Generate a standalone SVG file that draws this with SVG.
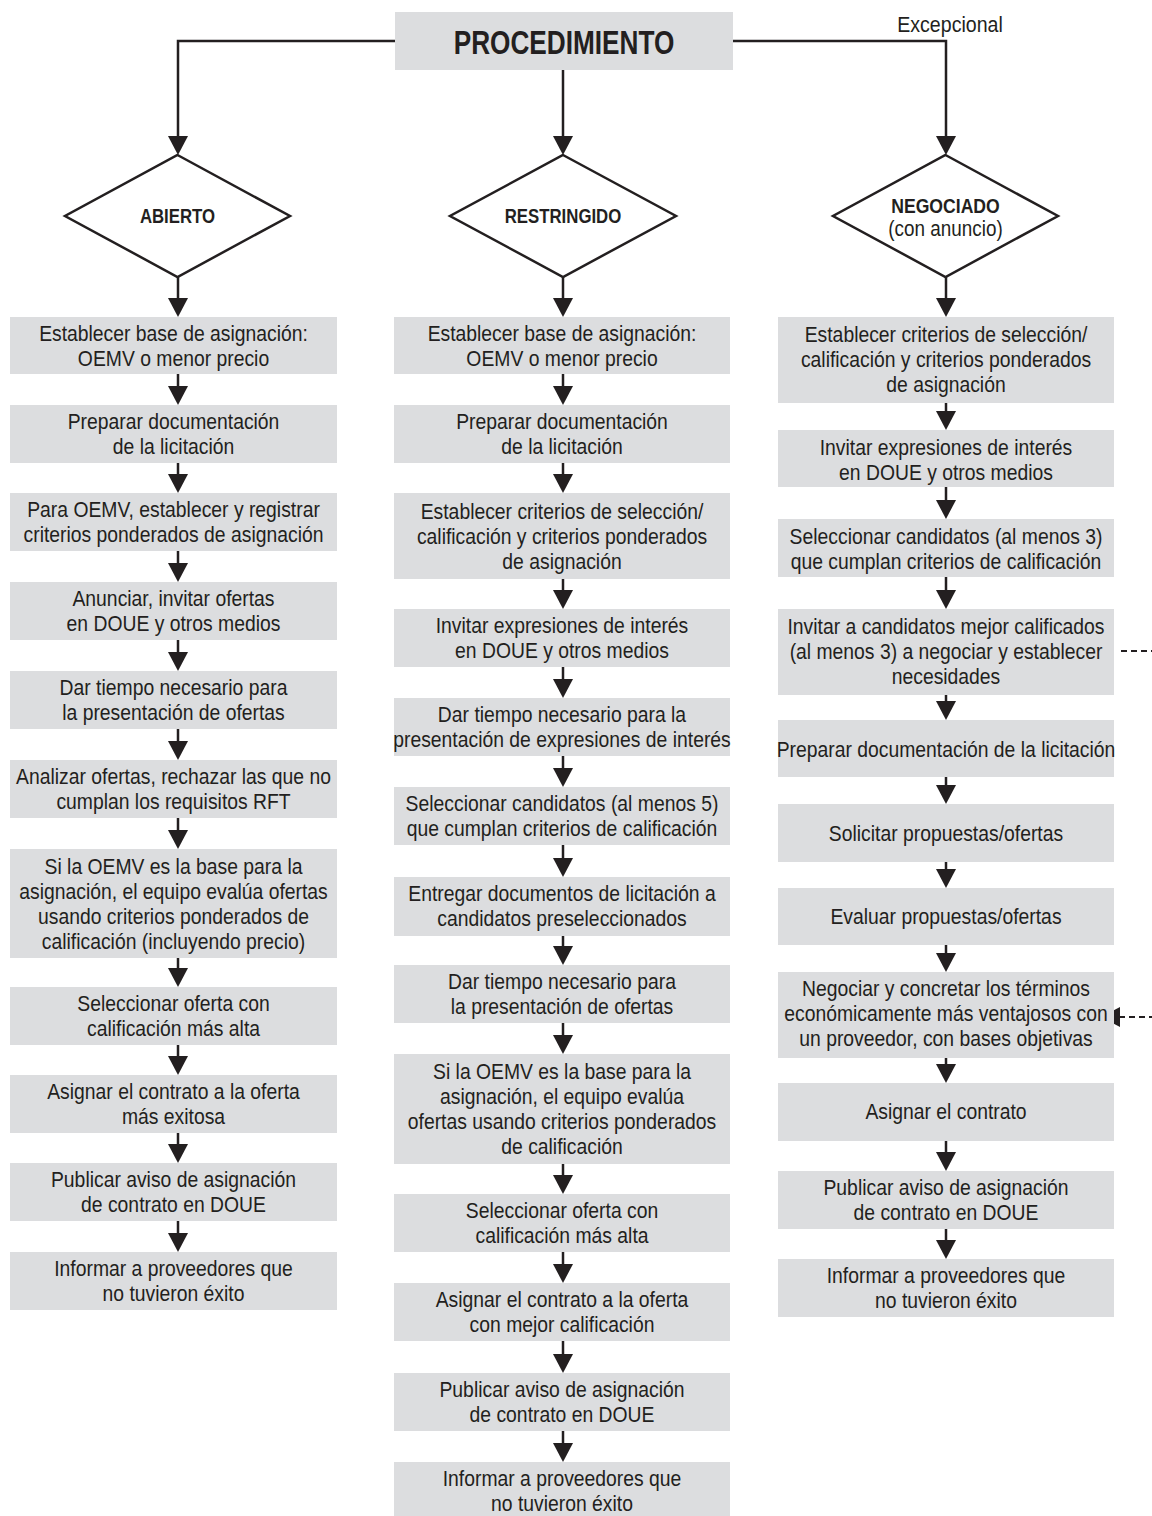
<svg xmlns="http://www.w3.org/2000/svg" width="1152" height="1516" viewBox="0 0 1152 1516">
<style>
.box{fill:#dcdddf}
.t{font-family:"Liberation Sans",Arial,sans-serif;font-size:22.5px;fill:#231f20;text-anchor:middle}
.b{font-family:"Liberation Sans",Arial,sans-serif;font-weight:bold;fill:#231f20;text-anchor:middle}
.dia{fill:#fff;stroke:#231f20;stroke-width:2.5}
.ln{fill:none;stroke:#231f20;stroke-width:2.5;marker-end:url(#ah)}
.top{fill:none;stroke:#231f20;stroke-width:2.5;marker-end:url(#ah)}
.dash{fill:none;stroke:#231f20;stroke-width:2.2;stroke-dasharray:6 4;marker-end:url(#ah)}
</style>
<defs>
<marker id="ah" markerUnits="userSpaceOnUse" markerWidth="20" markerHeight="20" refX="13" refY="10" orient="auto" viewBox="0 0 20 20">
<path d="M0,0 L19,10 L0,20 Z" fill="#231f20"/>
</marker>
</defs>
<rect width="1152" height="1516" fill="#fff"/>

<g id="connectors">
<path class="top" d="M395,41 H178 V149"/>
<path class="top" d="M563,70 V149"/>
<path class="top" d="M733,41 H946 V149"/>
<path class="ln" d="M178,277 V311"/>
<path class="ln" d="M563,277 V311"/>
<path class="ln" d="M946,277 V311"/>
<path class="ln" d="M178,374 V399"/>
<path class="ln" d="M178,463 V487"/>
<path class="ln" d="M178,551 V576"/>
<path class="ln" d="M178,640 V665"/>
<path class="ln" d="M178,729 V754"/>
<path class="ln" d="M178,818 V843"/>
<path class="ln" d="M178,958 V981"/>
<path class="ln" d="M178,1045 V1069"/>
<path class="ln" d="M178,1133 V1157"/>
<path class="ln" d="M178,1221 V1246"/>
<path class="ln" d="M563,374 V399"/>
<path class="ln" d="M563,463 V487"/>
<path class="ln" d="M563,579 V603"/>
<path class="ln" d="M563,667 V692"/>
<path class="ln" d="M563,756 V781"/>
<path class="ln" d="M563,845 V871"/>
<path class="ln" d="M563,936 V959"/>
<path class="ln" d="M563,1023 V1048"/>
<path class="ln" d="M563,1164 V1188"/>
<path class="ln" d="M563,1252 V1277"/>
<path class="ln" d="M563,1341 V1367"/>
<path class="ln" d="M563,1431 V1456"/>
<path class="ln" d="M946,403 V424"/>
<path class="ln" d="M946,487 V513"/>
<path class="ln" d="M946,577 V603"/>
<path class="ln" d="M946,695 V714"/>
<path class="ln" d="M946,777 V798"/>
<path class="ln" d="M946,862 V882"/>
<path class="ln" d="M946,945 V966"/>
<path class="ln" d="M946,1058 V1077"/>
<path class="ln" d="M946,1141 V1165"/>
<path class="ln" d="M946,1229 V1253"/>
<path class="dash" d="M1121,651 H1170 V1017 H1107"/>
</g>

<g id="procedimiento">
<rect class="box" x="395" y="12" width="338" height="58"/>
<text class="b" font-size="34" transform="translate(564 0) scale(0.77 1)" x="0" y="54">PROCEDIMIENTO</text>
</g>
<g id="excepcional-label">
<text class="t" transform="translate(950 0) scale(0.87 1)" x="0" y="32">Excepcional</text>
</g>

<g id="abierto">
<polygon class="dia" points="177.5,155 290,216 177.5,277 65,216"/>
<text class="b" font-size="20" transform="translate(177.5 0) scale(0.84 1)" x="0" y="223">ABIERTO</text>
</g>
<g id="restringido">
<polygon class="dia" points="563,155 676,216 563,277 450,216"/>
<text class="b" font-size="20" transform="translate(563 0) scale(0.84 1)" x="0" y="223">RESTRINGIDO</text>
</g>
<g id="negociado">
<polygon class="dia" points="945.5,155 1058,216 945.5,277 833,216"/>
<text class="b" font-size="20" transform="translate(945.5 0) scale(0.88 1)" x="0" y="213">NEGOCIADO</text>
<text class="t" font-size="18" transform="translate(945.5 0) scale(0.84 1)" x="0" y="236">(con anuncio)</text>
</g>

<g id="L1"><rect class="box" x="10" y="317" width="327" height="57"/>
<text class="t" transform="translate(173.5 0) scale(0.86 1)"><tspan x="0" y="341">Establecer base de asignación:</tspan><tspan x="0" y="366">OEMV o menor precio</tspan></text></g>
<g id="L2"><rect class="box" x="10" y="405" width="327" height="58"/>
<text class="t" transform="translate(173.5 0) scale(0.86 1)"><tspan x="0" y="429.5">Preparar documentación</tspan><tspan x="0" y="454.5">de la licitación</tspan></text></g>
<g id="L3"><rect class="box" x="10" y="493" width="327" height="58"/>
<text class="t" transform="translate(173.5 0) scale(0.86 1)"><tspan x="0" y="517.5">Para OEMV, establecer y registrar</tspan><tspan x="0" y="542.5">criterios ponderados de asignación</tspan></text></g>
<g id="L4"><rect class="box" x="10" y="582" width="327" height="58"/>
<text class="t" transform="translate(173.5 0) scale(0.86 1)"><tspan x="0" y="606.5">Anunciar, invitar ofertas</tspan><tspan x="0" y="631.5">en DOUE y otros medios</tspan></text></g>
<g id="L5"><rect class="box" x="10" y="671" width="327" height="58"/>
<text class="t" transform="translate(173.5 0) scale(0.86 1)"><tspan x="0" y="695.5">Dar tiempo necesario para</tspan><tspan x="0" y="720.5">la presentación de ofertas</tspan></text></g>
<g id="L6"><rect class="box" x="10" y="760" width="327" height="58"/>
<text class="t" transform="translate(173.5 0) scale(0.86 1)"><tspan x="0" y="784.5">Analizar ofertas, rechazar las que no</tspan><tspan x="0" y="809.5">cumplan los requisitos RFT</tspan></text></g>
<g id="L7"><rect class="box" x="10" y="849" width="327" height="109"/>
<text class="t" transform="translate(173.5 0) scale(0.86 1)"><tspan x="0" y="874">Si la OEMV es la base para la</tspan><tspan x="0" y="899">asignación, el equipo evalúa ofertas</tspan><tspan x="0" y="924">usando criterios ponderados de</tspan><tspan x="0" y="949">calificación (incluyendo precio)</tspan></text></g>
<g id="L8"><rect class="box" x="10" y="987" width="327" height="58"/>
<text class="t" transform="translate(173.5 0) scale(0.86 1)"><tspan x="0" y="1011.5">Seleccionar oferta con</tspan><tspan x="0" y="1036.5">calificación más alta</tspan></text></g>
<g id="L9"><rect class="box" x="10" y="1075" width="327" height="58"/>
<text class="t" transform="translate(173.5 0) scale(0.86 1)"><tspan x="0" y="1099.5">Asignar el contrato a la oferta</tspan><tspan x="0" y="1124.5">más exitosa</tspan></text></g>
<g id="L10"><rect class="box" x="10" y="1163" width="327" height="58"/>
<text class="t" transform="translate(173.5 0) scale(0.86 1)"><tspan x="0" y="1187.5">Publicar aviso de asignación</tspan><tspan x="0" y="1212.5">de contrato en DOUE</tspan></text></g>
<g id="L11"><rect class="box" x="10" y="1252" width="327" height="58"/>
<text class="t" transform="translate(173.5 0) scale(0.86 1)"><tspan x="0" y="1276.5">Informar a proveedores que</tspan><tspan x="0" y="1301.5">no tuvieron éxito</tspan></text></g>

<g id="M1"><rect class="box" x="394" y="317" width="336" height="57"/>
<text class="t" transform="translate(562 0) scale(0.86 1)"><tspan x="0" y="341">Establecer base de asignación:</tspan><tspan x="0" y="366">OEMV o menor precio</tspan></text></g>
<g id="M2"><rect class="box" x="394" y="405" width="336" height="58"/>
<text class="t" transform="translate(562 0) scale(0.86 1)"><tspan x="0" y="429.5">Preparar documentación</tspan><tspan x="0" y="454.5">de la licitación</tspan></text></g>
<g id="M3"><rect class="box" x="394" y="493" width="336" height="86"/>
<text class="t" transform="translate(562 0) scale(0.86 1)"><tspan x="0" y="519.5">Establecer criterios de selección/</tspan><tspan x="0" y="544.5">calificación y criterios ponderados</tspan><tspan x="0" y="569.5">de asignación</tspan></text></g>
<g id="M4"><rect class="box" x="394" y="609" width="336" height="58"/>
<text class="t" transform="translate(562 0) scale(0.86 1)"><tspan x="0" y="633.5">Invitar expresiones de interés</tspan><tspan x="0" y="658.5">en DOUE y otros medios</tspan></text></g>
<g id="M5"><rect class="box" x="394" y="698" width="336" height="58"/>
<text class="t" transform="translate(562 0) scale(0.86 1)"><tspan x="0" y="722.5">Dar tiempo necesario para la</tspan><tspan x="0" y="747.5">presentación de expresiones de interés</tspan></text></g>
<g id="M6"><rect class="box" x="394" y="787" width="336" height="58"/>
<text class="t" transform="translate(562 0) scale(0.86 1)"><tspan x="0" y="811.5">Seleccionar candidatos (al menos 5)</tspan><tspan x="0" y="836.5">que cumplan criterios de calificación</tspan></text></g>
<g id="M7"><rect class="box" x="394" y="877" width="336" height="59"/>
<text class="t" transform="translate(562 0) scale(0.86 1)"><tspan x="0" y="901.5">Entregar documentos de licitación a</tspan><tspan x="0" y="926.5">candidatos preseleccionados</tspan></text></g>
<g id="M8"><rect class="box" x="394" y="965" width="336" height="58"/>
<text class="t" transform="translate(562 0) scale(0.86 1)"><tspan x="0" y="989.5">Dar tiempo necesario para</tspan><tspan x="0" y="1014.5">la presentación de ofertas</tspan></text></g>
<g id="M9"><rect class="box" x="394" y="1054" width="336" height="110"/>
<text class="t" transform="translate(562 0) scale(0.86 1)"><tspan x="0" y="1079.5">Si la OEMV es la base para la</tspan><tspan x="0" y="1104.5">asignación, el equipo evalúa</tspan><tspan x="0" y="1129.5">ofertas usando criterios ponderados</tspan><tspan x="0" y="1154.5">de calificación</tspan></text></g>
<g id="M10"><rect class="box" x="394" y="1194" width="336" height="58"/>
<text class="t" transform="translate(562 0) scale(0.86 1)"><tspan x="0" y="1218.5">Seleccionar oferta con</tspan><tspan x="0" y="1243.5">calificación más alta</tspan></text></g>
<g id="M11"><rect class="box" x="394" y="1283" width="336" height="58"/>
<text class="t" transform="translate(562 0) scale(0.86 1)"><tspan x="0" y="1307.5">Asignar el contrato a la oferta</tspan><tspan x="0" y="1332.5">con mejor calificación</tspan></text></g>
<g id="M12"><rect class="box" x="394" y="1373" width="336" height="58"/>
<text class="t" transform="translate(562 0) scale(0.86 1)"><tspan x="0" y="1397.5">Publicar aviso de asignación</tspan><tspan x="0" y="1422.5">de contrato en DOUE</tspan></text></g>
<g id="M13"><rect class="box" x="394" y="1462" width="336" height="58"/>
<text class="t" transform="translate(562 0) scale(0.86 1)"><tspan x="0" y="1486.5">Informar a proveedores que</tspan><tspan x="0" y="1511.5">no tuvieron éxito</tspan></text></g>

<g id="R1"><rect class="box" x="778" y="317" width="336" height="86"/>
<text class="t" transform="translate(946 0) scale(0.86 1)"><tspan x="0" y="342">Establecer criterios de selección/</tspan><tspan x="0" y="367">calificación y criterios ponderados</tspan><tspan x="0" y="392">de asignación</tspan></text></g>
<g id="R2"><rect class="box" x="778" y="430" width="336" height="57"/>
<text class="t" transform="translate(946 0) scale(0.86 1)"><tspan x="0" y="455">Invitar expresiones de interés</tspan><tspan x="0" y="480">en DOUE y otros medios</tspan></text></g>
<g id="R3"><rect class="box" x="778" y="519" width="336" height="58"/>
<text class="t" transform="translate(946 0) scale(0.86 1)"><tspan x="0" y="544">Seleccionar candidatos (al menos 3)</tspan><tspan x="0" y="569">que cumplan criterios de calificación</tspan></text></g>
<g id="R4"><rect class="box" x="778" y="609" width="336" height="86"/>
<text class="t" transform="translate(946 0) scale(0.86 1)"><tspan x="0" y="634">Invitar a candidatos mejor calificados</tspan><tspan x="0" y="659">(al menos 3) a negociar y establecer</tspan><tspan x="0" y="684">necesidades</tspan></text></g>
<g id="R5"><rect class="box" x="778" y="720" width="336" height="57"/>
<text class="t" transform="translate(946 0) scale(0.86 1)" x="0" y="757">Preparar documentación de la licitación</text></g>
<g id="R6"><rect class="box" x="778" y="804" width="336" height="58"/>
<text class="t" transform="translate(946 0) scale(0.86 1)" x="0" y="841">Solicitar propuestas/ofertas</text></g>
<g id="R7"><rect class="box" x="778" y="888" width="336" height="57"/>
<text class="t" transform="translate(946 0) scale(0.86 1)" x="0" y="924">Evaluar propuestas/ofertas</text></g>
<g id="R8"><rect class="box" x="778" y="972" width="336" height="86"/>
<text class="t" transform="translate(946 0) scale(0.86 1)"><tspan x="0" y="996">Negociar y concretar los términos</tspan><tspan x="0" y="1021">económicamente más ventajosos con</tspan><tspan x="0" y="1046">un proveedor, con bases objetivas</tspan></text></g>
<g id="R9"><rect class="box" x="778" y="1083" width="336" height="58"/>
<text class="t" transform="translate(946 0) scale(0.86 1)" x="0" y="1119">Asignar el contrato</text></g>
<g id="R10"><rect class="box" x="778" y="1171" width="336" height="58"/>
<text class="t" transform="translate(946 0) scale(0.86 1)"><tspan x="0" y="1195.5">Publicar aviso de asignación</tspan><tspan x="0" y="1220.5">de contrato en DOUE</tspan></text></g>
<g id="R11"><rect class="box" x="778" y="1259" width="336" height="58"/>
<text class="t" transform="translate(946 0) scale(0.86 1)"><tspan x="0" y="1283.5">Informar a proveedores que</tspan><tspan x="0" y="1308.5">no tuvieron éxito</tspan></text></g>
</svg>
